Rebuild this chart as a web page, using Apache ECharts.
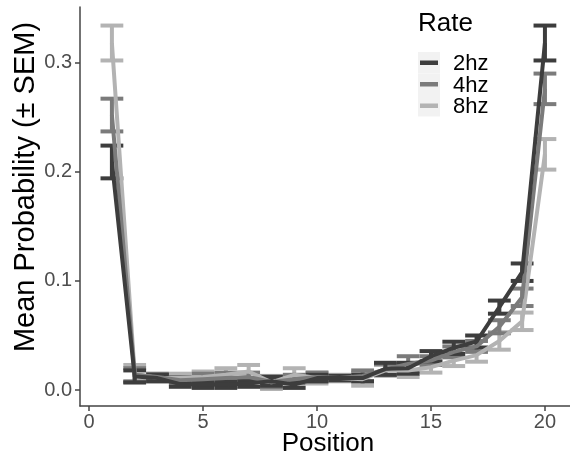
<!DOCTYPE html>
<html>
<head>
<meta charset="utf-8">
<script src="https://cdn.jsdelivr.net/npm/echarts@6/dist/echarts.min.js"></script>
<style>
  html, body { margin: 0; padding: 0; background: #ffffff; }
  #chart { width: 570px; height: 458px; }
</style>
</head>
<body>
<div id="chart"></div>
<script>
// Stimulus positions along the sequence
const positions = [1, 2, 3, 4, 5, 6, 7, 8, 9, 10, 11, 12, 13, 14, 15, 16, 17, 18, 19, 20];

// Mean probability per position, one array per presentation rate
const mean2hz = [0.209, 0.0125, 0.011, 0.0055, 0.005, 0.005, 0.006, 0.008, 0.005, 0.011, 0.011, 0.011, 0.0195, 0.020, 0.031, 0.0387, 0.0445, 0.076, 0.108, 0.318];
const mean4hz = [0.252, 0.014, 0.012, 0.009, 0.010, 0.011, 0.012, 0.0075, 0.010, 0.012, 0.011, 0.013, 0.019, 0.024, 0.027, 0.035, 0.040, 0.058, 0.085, 0.276];
const mean8hz = [0.318, 0.015, 0.011, 0.011, 0.012, 0.014, 0.017, 0.007, 0.014, 0.011, 0.011, 0.010, 0.018, 0.018, 0.021, 0.027, 0.032, 0.045, 0.063, 0.216];

// Standard error of the mean for each rate
const sem2hz = [0.015, 0.0055, 0.003, 0.0025, 0.003, 0.003, 0.003, 0.004, 0.003, 0.003, 0.002, 0.003, 0.0055, 0.005, 0.0047, 0.0056, 0.0055, 0.006, 0.008, 0.016];
const sem4hz = [0.015, 0.006, 0.003, 0.003, 0.005, 0.005, 0.004, 0.005, 0.004, 0.004, 0.002, 0.005, 0.005, 0.007, 0.004, 0.005, 0.005, 0.006, 0.008, 0.014];
const sem8hz = [0.016, 0.008, 0.003, 0.004, 0.005, 0.006, 0.006, 0.006, 0.006, 0.005, 0.003, 0.006, 0.005, 0.006, 0.005, 0.005, 0.006, 0.008, 0.008, 0.014];

const rateNames = ['2hz', '4hz', '8hz'];
const rateColors = ['#3d3d3d', '#7b7b7b', '#b3b3b3'];

const xTicks = [0, 5, 10, 15, 20];
const yTicks = [0, 0.1, 0.2, 0.3];

const rates = [
  { name: rateNames[0], mean: mean2hz, sem: sem2hz, color: rateColors[0] },
  { name: rateNames[1], mean: mean4hz, sem: sem4hz, color: rateColors[1] },
  { name: rateNames[2], mean: mean8hz, sem: sem8hz, color: rateColors[2] }
];

const chart = echarts.init(document.getElementById('chart'), null, { renderer: 'canvas' });

const CAP_HALF = 0.5;

function errorBarRenderer(color) {
  return function (params, api) {
    const x = api.value(0);
    const lo = api.value(1);
    const hi = api.value(2);
    const pLo = api.coord([x, lo]);
    const pHi = api.coord([x, hi]);
    const left = api.coord([x - CAP_HALF, lo])[0];
    const right = api.coord([x + CAP_HALF, lo])[0];
    const style = { stroke: color, lineWidth: 4, lineCap: 'butt' };
    return {
      type: 'group',
      children: [
        { type: 'line', shape: { x1: pLo[0], y1: pLo[1], x2: pHi[0], y2: pHi[1] }, style: style },
        { type: 'line', shape: { x1: left, y1: pHi[1], x2: right, y2: pHi[1] }, style: style },
        { type: 'line', shape: { x1: left, y1: pLo[1], x2: right, y2: pLo[1] }, style: style }
      ]
    };
  };
}

// Draw order: lightest first so the 2hz trace sits on top
const series = [];
rates.slice().reverse().forEach(function (r) {
  series.push({
    name: r.name + ' sem',
    type: 'custom',
    renderItem: errorBarRenderer(r.color),
    data: positions.map(function (p, i) { return [p, r.mean[i] - r.sem[i], r.mean[i] + r.sem[i]]; }),
    encode: { x: 0, y: [1, 2] },
    silent: true
  });
  series.push({
    name: r.name,
    type: 'line',
    data: positions.map(function (p, i) { return [p, r.mean[i]]; }),
    showSymbol: false,
    symbol: 'none',
    lineStyle: { color: r.color, width: 4 },
    silent: true
  });
});

const axisColor = '#444444';
const tickLabelColor = '#4d4d4d';
const fontFamily = 'Liberation Sans, Arial, sans-serif';

// Legend drawn as graphic elements
const legendLeft = 418;
const keyTop = [52, 73.5, 95];
const keyH = 21.5;
const legendGraphics = [
  { type: 'text', left: 418, top: 11, style: { text: 'Rate', fill: '#000', font: '26px ' + fontFamily } }
];
rates.forEach(function (r, i) {
  legendGraphics.push({ type: 'rect', shape: { x: legendLeft, y: keyTop[i], width: 22, height: keyH }, style: { fill: '#f2f2f2' } });
  legendGraphics.push({ type: 'line', shape: { x1: legendLeft + 2, y1: keyTop[i] + keyH / 2, x2: legendLeft + 20, y2: keyTop[i] + keyH / 2 }, style: { stroke: r.color, lineWidth: 4.5 } });
  legendGraphics.push({ type: 'text', x: 453, y: keyTop[i] + keyH / 2 + 1.5, style: { text: r.name, fill: '#000', font: '22px ' + fontFamily, textVerticalAlign: 'middle', verticalAlign: 'middle' } });
});

// Axis titles
legendGraphics.push({
  type: 'text', x: 328, y: 444,
  style: { text: 'Position', fill: '#000', font: '26px ' + fontFamily, align: 'center', verticalAlign: 'middle', textAlign: 'center', textVerticalAlign: 'middle' }
});
legendGraphics.push({
  type: 'text', x: 26, y: 187, rotation: Math.PI / 2,
  style: { text: 'Mean Probability (± SEM)', fill: '#000', font: '29px ' + fontFamily, align: 'center', verticalAlign: 'middle', textAlign: 'center', textVerticalAlign: 'middle' }
});

chart.setOption({
  animation: false,
  backgroundColor: '#ffffff',
  grid: { left: 80, right: 0, top: 7, bottom: 52, containLabel: false },
  xAxis: {
    type: 'value',
    min: -0.4,
    max: 21.1,
    splitLine: { show: false },
    axisLine: { show: true, onZero: false, lineStyle: { color: axisColor, width: 1.5 } },
    axisTick: { show: true, length: 5, customValues: xTicks, lineStyle: { color: axisColor, width: 1.5 } },
    axisLabel: { customValues: xTicks, color: tickLabelColor, fontSize: 20, fontFamily: fontFamily, margin: 6 }
  },
  yAxis: {
    type: 'value',
    min: -0.0146,
    max: 0.351,
    splitLine: { show: false },
    axisLine: { show: true, onZero: false, lineStyle: { color: axisColor, width: 1.5 } },
    axisTick: { show: true, length: 5, customValues: yTicks, lineStyle: { color: axisColor, width: 1.5 } },
    axisLabel: {
      customValues: yTicks, color: tickLabelColor, fontSize: 20, fontFamily: fontFamily, margin: 8,
      formatter: function (v) { return v.toFixed(1); }
    }
  },
  graphic: legendGraphics,
  series: series
});
</script>
</body>
</html>
